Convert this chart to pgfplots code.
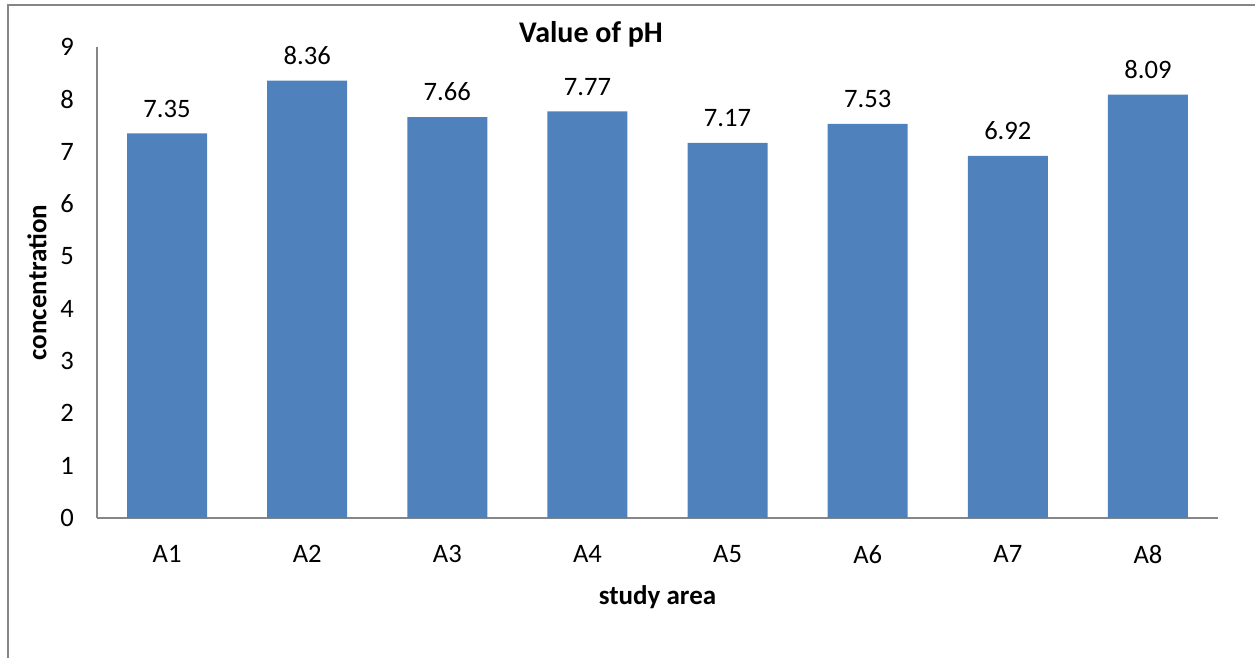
\documentclass[border=0pt]{standalone}
\usepackage{pgfplots}
\pgfplotsset{compat=1.18}
\usepackage{fontspec}
\setmainfont{Carlito}
\definecolor{barblue}{RGB}{79,129,189}
\definecolor{axgray}{RGB}{134,134,134}
\begin{document}
\begin{tikzpicture}[x=1bp,y=1bp]
\useasboundingbox (0,0) rectangle (627.5,329);
\draw[axgray, line width=1bp] (4,0) -- (4,326.5) -- (627.5,326.5);
\begin{axis}[
  at={(48.5bp,70bp)}, anchor=south west,
  scale only axis, width=560.5bp, height=235.5bp,
  xmin=0.5, xmax=8.5, ymin=0, ymax=9, enlargelimits=false,
  ybar, bar width=40bp,
  xtick={1,...,8}, xticklabels={A1,A2,A3,A4,A5,A6,A7,A8},
  ytick={0,...,9},
  major tick length=0,
  axis x line=bottom, axis y line=left,
  axis line style={axgray, line width=1bp, -},
  /pgf/number format/assume math mode=true,
  tick label style={font=\fontsize{13.3bp}{16bp}\selectfont},
  yticklabel style={xshift=-8bp},
  xticklabel style={yshift=-10bp},
  title={Value of pH},
  title style={at={(axis description cs:0.4407,1)}, anchor=center, yshift=0.5bp, font=\bfseries\fontsize{15bp}{18bp}\selectfont},
  xlabel={study area},
  ylabel={concentration},
  every axis x label/.style={at={(axis description cs:0.5,-0.1677)}, anchor=center, font=\bfseries\fontsize{13.5bp}{16bp}\selectfont},
  every axis y label/.style={at={(axis description cs:-0.0535,0.5)}, rotate=90, anchor=center, font=\bfseries\fontsize{13.5bp}{16bp}\selectfont},
  point meta=explicit symbolic,
  nodes near coords={\pgfplotspointmeta},
  every node near coord/.append style={yshift=4.5bp, font=\fontsize{13.3bp}{16bp}\selectfont, text=black},
]
\addplot[fill=barblue, draw=none] coordinates {
  (1,7.35) [7.35]
  (2,8.36) [8.36]
  (3,7.66) [7.66]
  (4,7.77) [7.77]
  (5,7.17) [7.17]
  (6,7.53) [7.53]
  (7,6.92) [6.92]
  (8,8.09) [8.09]
};
\end{axis}
\end{tikzpicture}
\end{document}
